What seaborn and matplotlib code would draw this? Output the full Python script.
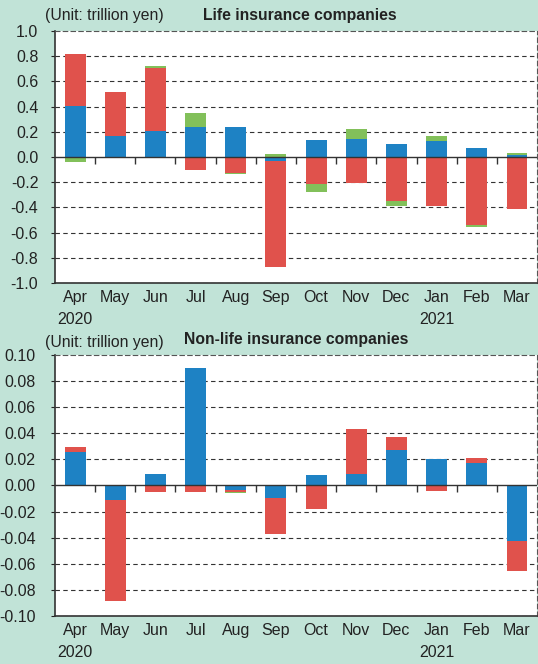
import numpy as np
import matplotlib
matplotlib.use("Agg")
import matplotlib.pyplot as plt
import seaborn as sns

months = ["Apr\n2020", "May", "Jun", "Jul", "Aug", "Sep", "Oct", "Nov", "Dec",
          "Jan\n2021", "Feb", "Mar"]

# Life insurance companies (trillion yen)
life_blue = [0.405, 0.167, 0.206, 0.238, 0.238, -0.030, 0.135, 0.146, 0.103, 0.127, 0.071, 0.016]
life_red = [0.415, 0.352, 0.500, -0.103, -0.124, -0.840, -0.214, -0.204, -0.349, -0.389, -0.540, -0.410]
life_green = [-0.040, 0.000, 0.016, 0.111, -0.011, 0.024, -0.064, 0.077, -0.040, 0.040, -0.016, 0.016]

# Non-life insurance companies (trillion yen)
nonlife_blue = [0.0256, -0.0113, 0.0087, 0.0900, -0.0036, -0.0097, 0.0079, 0.0087, 0.0271, 0.0202, 0.0171, -0.0427]
nonlife_red = [0.0038, -0.0774, -0.0051, -0.0051, -0.0015, -0.0274, -0.0182, 0.0345, 0.0100, -0.0043, 0.0038, -0.0228]
nonlife_green = [0.0, 0.0, 0.0, 0.0, -0.0008, 0.0, 0.0, 0.0, 0.0, 0.0, 0.0, 0.0]

colors = ["#1e82c4", "#e0524c", "#82c05a"]
bg = "#c1e3d7"
ink = "#333333"

sns.set_style("white")
plt.rcParams["font.family"] = ["Liberation Sans", "DejaVu Sans"]


def stacked(ax, series):
    parts = np.array(series)
    pos = np.cumsum(np.clip(parts, 0, None), axis=0)
    neg = np.cumsum(np.clip(parts, None, 0), axis=0)
    # draw outermost layer first so inner layers sit on top
    for k in range(len(series) - 1, -1, -1):
        for cum in (pos, neg):
            sns.barplot(x=months, y=cum[k], color=colors[k], saturation=1,
                        width=0.52, linewidth=0, ax=ax, zorder=2)


def style(ax, lim, step, fmt, pad):
    ax.set_facecolor("white")
    ax.set_xlim(-0.5, len(months) - 0.5)
    ax.set_ylim(-lim, lim)
    ticks = np.arange(-lim, lim + step / 2, step)
    ax.set_yticks(ticks)
    ax.set_yticklabels([fmt.format(t) if abs(t) > 1e-9 else fmt.format(0.0) for t in ticks])
    for t in ticks:
        if abs(t) > 1e-9 and t < lim - 1e-9:
            ax.axhline(t, color=ink, lw=0.8, ls=(0, (4, 3)), zorder=1)
    ax.axhline(0, color=ink, lw=1.0, zorder=3)
    ax.plot(np.arange(len(months) - 1) + 0.5, np.zeros(len(months) - 1),
            ls="none", marker=3, ms=5, mew=1.0, color=ink, zorder=3)
    ax.set_xticks(range(len(months)))
    ax.set_xticklabels(months, linespacing=1.55)
    ax.tick_params(axis="x", length=0, pad=5, labelsize=11.5, colors="#222222")
    ax.tick_params(axis="y", length=3, width=0.8, pad=pad, labelsize=11.5,
                   colors="#222222", direction="out", left=True)
    for s in ("left", "bottom"):
        ax.spines[s].set_color(ink)
        ax.spines[s].set_linewidth(1.2)
    for s in ("top", "right"):
        ax.spines[s].set_color("#555555")
        ax.spines[s].set_linewidth(0.8)
        ax.spines[s].set_linestyle((0, (4, 3)))
    ax.set_xlabel("")
    ax.set_ylabel("")


fig = plt.figure(figsize=(5.38, 6.64), dpi=100, facecolor=bg)
ax1 = fig.add_axes([0.1022, 0.5738, 0.896, 0.3795])
ax2 = fig.add_axes([0.1022, 0.0723, 0.896, 0.3931])

stacked(ax1, [life_blue, life_red, life_green])
style(ax1, 1.0, 0.2, "{:.1f}", 9)
stacked(ax2, [nonlife_blue, nonlife_red, nonlife_green])
style(ax2, 0.10, 0.02, "{:.2f}", 11)

fig.text(0.557, 0.977, "Life insurance companies", ha="center", va="center",
         fontsize=11.3, fontweight="bold", color="#222222")
fig.text(0.084, 0.976, "(Unit: trillion yen)", ha="left", va="center",
         fontsize=11.3, color="#222222")
fig.text(0.551, 0.488, "Non-life insurance companies", ha="center", va="center",
         fontsize=11.3, fontweight="bold", color="#222222")
fig.text(0.084, 0.484, "(Unit: trillion yen)", ha="left", va="center",
         fontsize=11.3, color="#222222")

fig.savefig("out.png", dpi=100, facecolor=bg)
